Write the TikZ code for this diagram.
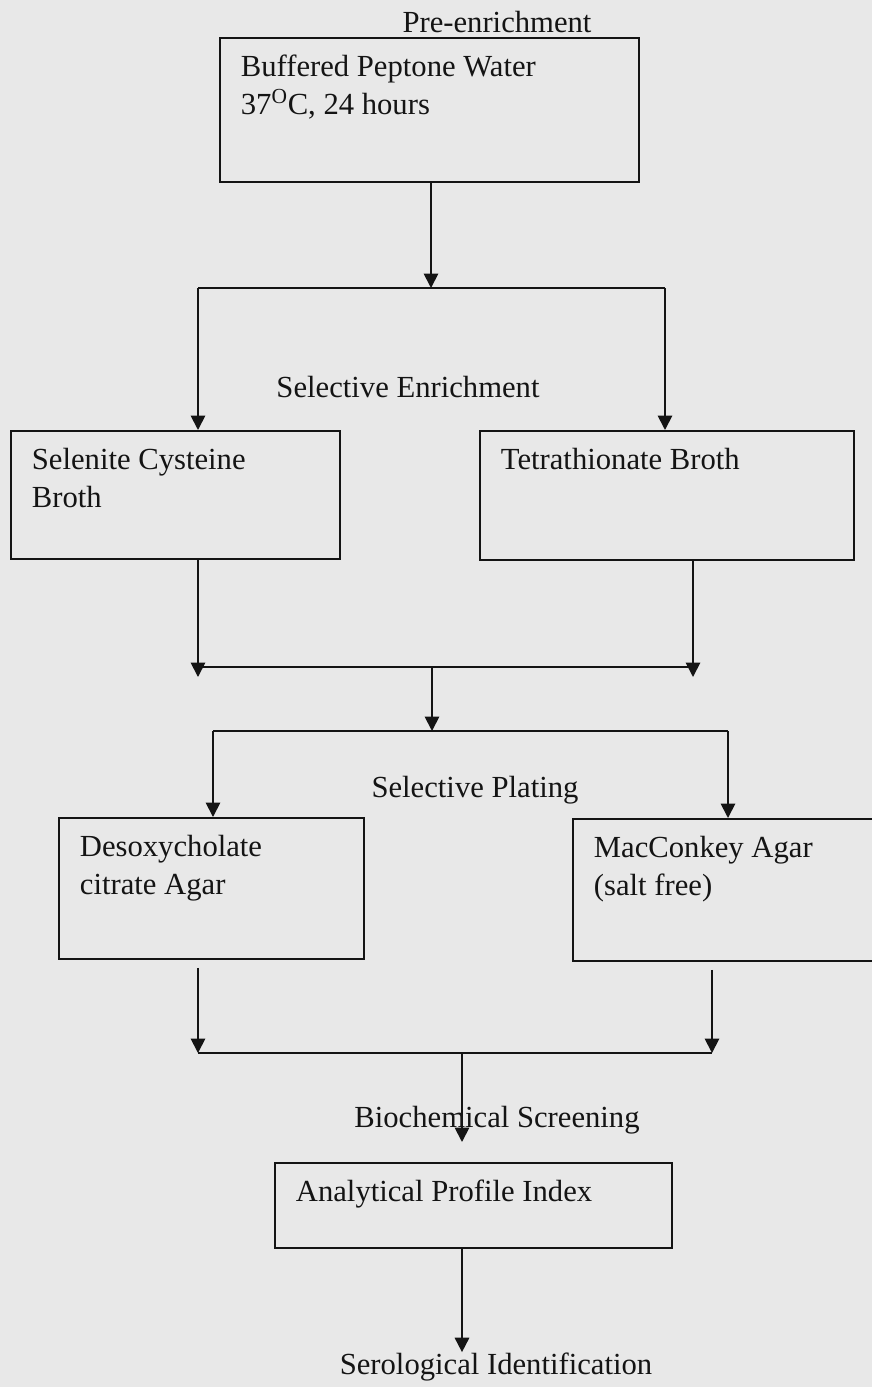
\documentclass[tikz,border=0pt]{standalone}
\usepackage{fontspec}
\setmainfont{Liberation Serif}
\usepackage{xcolor}
\usetikzlibrary{arrows.meta, positioning, calc}
\definecolor{scangray}{RGB}{232, 232, 232}
\definecolor{inkblack}{RGB}{20, 20, 20}

\begin{document}
\begin{tikzpicture}[
    x=0.025cm, y=-0.025cm,
    font=\fontsize{21.8}{26.5}\selectfont,
    box/.style={rectangle, draw=inkblack, line width=1.3pt, anchor=north west, align=flush left, inner xsep=0.525cm, inner ysep=0pt, text height=0.975cm, text=inkblack},
    lbl/.style={anchor=base, inner sep=0pt, text=inkblack},
    link/.style={draw=inkblack, line width=1.3pt},
    arrow/.style={->, draw=inkblack, line width=1.3pt, >={Triangle[width=0.36cm, length=0.36cm]}}
]
    \fill[scangray] (0,0) rectangle (872,1387);
    \useasboundingbox (0,0) rectangle (872,1387);

    \node[box, text width=9.425cm, text depth=2.625cm] (bpw) at (219,37) {Buffered Peptone Water\\37\textsuperscript{O}C, 24 hours};
    \node[box, text width=7.175cm, text depth=2.225cm] (selenite) at (10,430) {Selenite Cysteine\\Broth};
    \node[box, text width=8.3cm, text depth=2.25cm] (tetra) at (479,430) {Tetrathionate Broth};
    \node[box, text width=6.575cm, text depth=2.55cm] (desoxy) at (58,817) {Desoxycholate\\citrate Agar};
    \node[box, text width=6.55cm, text depth=2.575cm] (mac) at (572,818) {MacConkey Agar\\(salt free)};
    \node[box, text width=8.875cm, text depth=1.15cm] (api) at (274,1162) {Analytical Profile Index};

    \node[lbl] (preenr) at (497,32) {Pre-enrichment};
    \node[lbl] (selenr) at (408,397) {Selective Enrichment};
    \node[lbl] (selplat) at (475,797) {Selective Plating};
    \node[lbl] (biochem) at (497,1127) {Biochemical Screening};
    \node[lbl] (serol) at (496,1374) {Serological Identification};

    % junctions
    \coordinate (splitL) at (198,288);
    \coordinate (splitC) at (431,288);
    \coordinate (splitR) at (665,288);
    \coordinate (mergeL) at (198,667);
    \coordinate (mergeC) at (432,667);
    \coordinate (mergeR) at (693,667);
    \coordinate (plateL) at (213,731);
    \coordinate (plateC) at (432,731);
    \coordinate (plateR) at (728,731);
    \coordinate (screenL) at (198,1053);
    \coordinate (screenC) at (462,1053);
    \coordinate (screenR) at (712,1053);

    \draw[arrow] (bpw.south -| splitC) -- (splitC);
    \draw[link] (splitL) -- (splitR);
    \draw[arrow] (splitL) -- (selenite.north -| splitL);
    \draw[arrow] (splitR) -- (tetra.north -| splitR);

    \draw[arrow, shorten >=-0.25cm] (selenite.south -| mergeL) -- (mergeL);
    \draw[arrow, shorten >=-0.25cm] (tetra.south -| mergeR) -- (mergeR);
    \draw[link] (mergeL) -- (mergeR);
    \draw[arrow] (mergeC) -- (plateC);

    \draw[link] (plateL) -- (plateR);
    \draw[arrow] (plateL) -- (desoxy.north -| plateL);
    \draw[arrow] (plateR) -- (mac.north -| plateR);

    \draw[arrow, shorten <=0.2cm] (desoxy.south -| screenL) -- (screenL);
    \draw[arrow, shorten <=0.2cm] (mac.south -| screenR) -- (screenR);
    \draw[link] (screenL) -- (screenR);
    \draw[arrow, shorten >=0.5cm] (screenC) -- (api.north -| screenC);
    \draw[arrow] (api.south -| screenC) -- (serol.north -| screenC);
\end{tikzpicture}
\end{document}
